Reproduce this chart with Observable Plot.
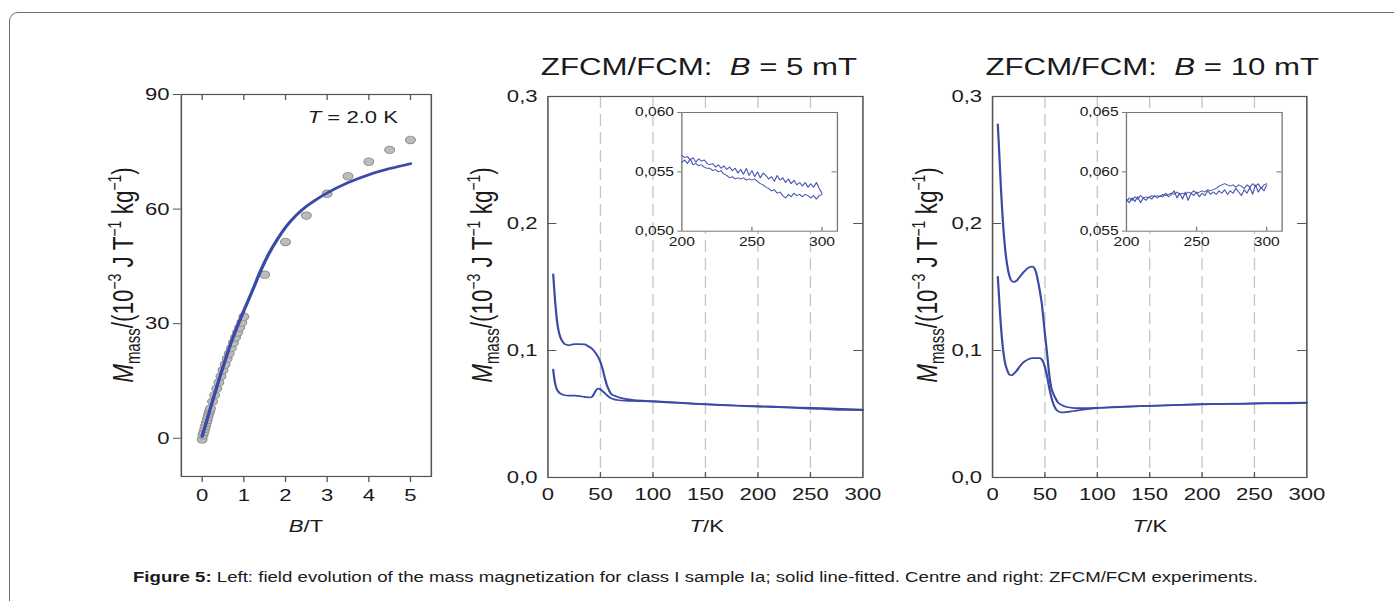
<!DOCTYPE html>
<html>
<head>
<meta charset="utf-8">
<script src="https://cdn.jsdelivr.net/npm/d3@7"></script>
<script src="https://cdn.jsdelivr.net/npm/@observablehq/plot@0.6"></script>
<style>
  html, body { margin: 0; padding: 0; background: #fff; width: 1394px; height: 601px; overflow: hidden; }
  #border { position: absolute; left: 9px; top: 12px; width: 1410px; height: 640px; border: 1.5px solid #6f6f6f; border-radius: 9px; box-sizing: border-box; }
  #chart { position: absolute; left: 0; top: 0; height: 601px; transform-origin: 0 0; font-family: "Liberation Sans", Arial, sans-serif; }
  #caption { position: absolute; left: 0; top: 0; }
  svg text { white-space: pre; }
</style>
</head>
<body>
<div id="border"></div>
<div id="chart"></div>
<svg id="caption" width="1394" height="601"></svg>
<script>
// ---------------- DATA ----------------
// Left: field dependence at T = 2.0 K
const fieldB = [0, 0.02, 0.04, 0.06, 0.08, 0.1, 0.12, 0.14, 0.16, 0.18, 0.2, 0.25, 0.3, 0.35, 0.4, 0.45, 0.5, 0.55, 0.6, 0.65, 0.7, 0.75, 0.8, 0.85, 0.9, 0.95, 1.0, 1.5, 2, 2.5, 3, 3.5, 4, 4.5, 5];
const fieldM = [-0.3, 0.8, 1.6, 2.4, 3.2, 4.0, 4.8, 5.6, 6.4, 7.1, 7.8, 9.6, 11.3, 13.0, 14.6, 16.2, 17.8, 19.3, 20.8, 22.2, 23.6, 25.0, 26.4, 27.7, 29.0, 30.3, 31.8, 42.8, 51.4, 58.3, 64.0, 68.6, 72.4, 75.5, 78.1];
const fitB = [0, 0.1, 0.2, 0.3, 0.4, 0.5, 0.6, 0.7, 0.8, 0.9, 1.0, 1.2, 1.4, 1.6, 1.8, 2.0, 2.25, 2.5, 2.75, 3.0, 3.5, 4.0, 4.5, 5.0];
const fitM = [0.5, 4.2, 8.0, 11.6, 15.2, 18.7, 22.0, 25.2, 28.1, 30.8, 33.4, 38.5, 43.8, 48.3, 52.0, 55.2, 58.3, 60.7, 62.6, 64.2, 66.9, 69.0, 70.6, 71.9];
const fieldXTicks = [0, 1, 2, 3, 4, 5];
const fieldYTicks = [0, 30, 60, 90];

// Centre: ZFCM/FCM, B = 5 mT
const fc5T  = [5, 6, 7, 8, 9, 10, 12, 14, 16, 18, 20, 22, 25, 30, 35, 38, 41, 44, 47, 50, 52, 54, 56, 58, 60, 63, 66, 70, 75, 80, 90, 100, 120, 140, 160, 180, 200, 220, 240, 260, 280, 300];
const fc5M  = [0.160, 0.148, 0.137, 0.128, 0.121, 0.116, 0.110, 0.107, 0.105, 0.1045, 0.104, 0.1045, 0.105, 0.105, 0.1048, 0.1035, 0.102, 0.0995, 0.096, 0.091, 0.0855, 0.079, 0.073, 0.069, 0.066, 0.0645, 0.0635, 0.0625, 0.0617, 0.0612, 0.0605, 0.0601, 0.0591, 0.0582, 0.0574, 0.0567, 0.0562, 0.0557, 0.0551, 0.0546, 0.0541, 0.0535];
const zfc5T = [5, 6, 7, 8, 10, 12, 15, 20, 25, 30, 35, 40, 42, 44, 46, 48, 50, 52, 54, 56, 58, 60, 63, 66, 70, 75, 80, 90, 100, 120, 140, 160, 180, 200, 220, 240, 260, 280, 300];
const zfc5M = [0.085, 0.078, 0.0735, 0.0705, 0.0675, 0.066, 0.065, 0.0645, 0.0645, 0.064, 0.0635, 0.063, 0.0635, 0.066, 0.069, 0.070, 0.0695, 0.068, 0.0665, 0.065, 0.0635, 0.0625, 0.0615, 0.061, 0.0606, 0.0604, 0.0603, 0.0601, 0.0598, 0.0589, 0.0580, 0.0572, 0.0565, 0.0558, 0.0553, 0.0545, 0.0540, 0.0532, 0.0531];

// Right: ZFCM/FCM, B = 10 mT
const fc10T  = [5, 6, 7, 8, 9, 10, 12, 14, 16, 18, 20, 23, 26, 30, 34, 38, 41, 44, 47, 50, 52, 54, 56, 58, 60, 62, 65, 68, 72, 76, 80, 90, 100, 120, 140, 160, 180, 200, 220, 240, 260, 280, 300];
const fc10M  = [0.278, 0.262, 0.245, 0.228, 0.213, 0.200, 0.180, 0.167, 0.159, 0.155, 0.154, 0.155, 0.158, 0.162, 0.165, 0.166, 0.163, 0.152, 0.137, 0.113, 0.098, 0.082, 0.071, 0.066, 0.0625, 0.0595, 0.0575, 0.0563, 0.0553, 0.0548, 0.0546, 0.0546, 0.0549, 0.0556, 0.0562, 0.0567, 0.0572, 0.0577, 0.0580, 0.0582, 0.0585, 0.0588, 0.0590];
const zfc10T = [5, 6, 7, 8, 9, 10, 12, 14, 16, 18, 20, 23, 26, 30, 34, 38, 42, 45, 48, 50, 52, 54, 56, 58, 60, 62, 64, 66, 70, 75, 80, 90, 100, 120, 140, 160, 180, 200, 220, 240, 260, 280, 300];
const zfc10M = [0.158, 0.145, 0.131, 0.119, 0.109, 0.101, 0.090, 0.0845, 0.081, 0.0805, 0.0815, 0.084, 0.0875, 0.091, 0.093, 0.094, 0.094, 0.094, 0.0915, 0.087, 0.080, 0.071, 0.0635, 0.058, 0.0545, 0.0525, 0.0515, 0.0512, 0.0514, 0.052, 0.0527, 0.0538, 0.0546, 0.0554, 0.0561, 0.0566, 0.0571, 0.0576, 0.0579, 0.0580, 0.0583, 0.0584, 0.0588];

const tempXTicks = [0, 50, 100, 150, 200, 250, 300];
const tempGrid = [50, 100, 150, 200, 250];
const tempYTicks = [0.0, 0.1, 0.2, 0.3];
const tempYInner = [0.1, 0.2];

// Insets (200–300 K)
const insetT = [200, 202, 204, 206, 208, 210, 212, 214, 216, 218, 220, 222, 224, 226, 228, 230, 232, 234, 236, 238, 240, 242, 244, 246, 248, 250, 252, 254, 256, 258, 260, 262, 264, 266, 268, 270, 272, 274, 276, 278, 280, 282, 284, 286, 288, 290, 292, 294, 296, 298, 300];
const in5Fc  = [0.0564, 0.0562, 0.0563, 0.0560, 0.0562, 0.0558, 0.0561, 0.0559, 0.0560, 0.0557, 0.0556, 0.0557, 0.0554, 0.0556, 0.0553, 0.0555, 0.0552, 0.0554, 0.0551, 0.0553, 0.0549, 0.0552, 0.0548, 0.0553, 0.0547, 0.0551, 0.0546, 0.0550, 0.0545, 0.0549, 0.0547, 0.0544, 0.0546, 0.0542, 0.0547, 0.0543, 0.0545, 0.0541, 0.0544, 0.0540, 0.0543, 0.0539, 0.0541, 0.0538, 0.0541, 0.0537, 0.0540, 0.0537, 0.0541, 0.0536, 0.0532];
const in5Zfc = [0.0558, 0.0560, 0.0557, 0.0561, 0.0556, 0.0557, 0.0555, 0.0556, 0.0554, 0.0553, 0.0553, 0.0551, 0.0552, 0.0550, 0.0551, 0.0548, 0.0547, 0.0545, 0.0546, 0.0544, 0.0545, 0.0544, 0.0545, 0.0543, 0.0544, 0.0543, 0.0544, 0.0542, 0.0540, 0.0539, 0.0537, 0.0536, 0.0534, 0.0535, 0.0532, 0.0533, 0.0530, 0.0528, 0.0531, 0.0529, 0.0532, 0.0530, 0.0531, 0.0529, 0.0531, 0.0530, 0.0528, 0.0530, 0.0527, 0.0530, 0.0531];
const in10Fc  = [0.0575, 0.0578, 0.0576, 0.0579, 0.0577, 0.0580, 0.0578, 0.0579, 0.0578, 0.0580, 0.0579, 0.0580, 0.0579, 0.0581, 0.0580, 0.0581, 0.0582, 0.0581, 0.0583, 0.0581, 0.0582, 0.0581, 0.0583, 0.0582, 0.0584, 0.0582, 0.0583, 0.0584, 0.0583, 0.0585, 0.0584, 0.0585, 0.0586, 0.0588, 0.0589, 0.0590, 0.0589, 0.0588, 0.0589, 0.0587, 0.0589, 0.0588, 0.0586, 0.0589, 0.0587, 0.0590, 0.0588, 0.0590, 0.0586, 0.0589, 0.0590];
const in10Zfc = [0.0577, 0.0574, 0.0578, 0.0575, 0.0579, 0.0574, 0.0578, 0.0576, 0.0579, 0.0577, 0.0580, 0.0578, 0.0580, 0.0579, 0.0582, 0.0579, 0.0581, 0.0584, 0.0578, 0.0582, 0.0577, 0.0583, 0.0576, 0.0582, 0.0580, 0.0583, 0.0579, 0.0582, 0.0580, 0.0584, 0.0581, 0.0583, 0.0581, 0.0584, 0.0582, 0.0585, 0.0581, 0.0584, 0.0582, 0.0586, 0.0583, 0.0580, 0.0585, 0.0582, 0.0587, 0.0581, 0.0589, 0.0583, 0.0587, 0.0584, 0.0589];
const insetXTicks = [200, 250, 300];
const inset5YTicks = [0.050, 0.055, 0.060];
const inset10YTicks = [0.055, 0.060, 0.065];

// ---------------- LAYOUT ----------------
const S = 1.3;               // horizontal stretch of the original figure
const FONT = '"Liberation Sans", Arial, sans-serif';
const BLUE = "#3a4aa6";
const chart = document.getElementById("chart");
chart.style.width = (1394 / S) + "px";
chart.style.transform = `scaleX(${S})`;

const pairs = (xs, ys, kx, ky) => xs.map((v, i) => ({[kx]: v, [ky]: ys[i]}));
const comma = d => (k => v => v.toFixed(k).replace(".", ","))(d);

function panel({frame, x, y, ml, mr, mt, mb, marks}) {
  const [x0, y0, x1, y1] = frame;
  const fw = x1 - x0, fh = y1 - y0;
  const svg = Plot.plot({
    width: ml + fw + mr, height: mt + fh + mb,
    marginLeft: ml, marginRight: mr, marginTop: mt, marginBottom: mb,
    x: {domain: x, label: null}, y: {domain: y, label: null},
    style: {background: "transparent", overflow: "visible", fontFamily: FONT, color: "#1a1a1a"},
    marks: marks(fw, fh)
  });
  svg.style.position = "absolute";
  svg.style.left = (x0 - ml) + "px";
  svg.style.top = (y0 - mt) + "px";
  svg.style.maxWidth = "none";
  chart.appendChild(svg);
}

// Left panel
panel({
  frame: [181 / S, 94, 431 / S, 476], x: [-0.5, 5.5], y: [-10, 90],
  ml: 60, mr: 10, mt: 10, mb: 60,
  marks: (fw, fh) => [
    Plot.dot(pairs(fieldB, fieldM, "B", "M"), {x: "B", y: "M", r: 3.8, fill: "#bcbcbc", stroke: "#8c8c8c", strokeWidth: 0.8}),
    Plot.line(pairs(fitB, fitM, "B", "M"), {x: "B", y: "M", stroke: BLUE, strokeWidth: 2.6, curve: "monotone-x"}),
    Plot.frame({stroke: "#555", strokeWidth: 1.2}),
    Plot.axisY(fieldYTicks, {anchor: "left", tickSize: 6, tickPadding: 3, fontSize: 17, label: null, stroke: "#555"}),
    Plot.axisX(fieldXTicks, {anchor: "bottom", tickSize: 6, tickPadding: 6, fontSize: 17, label: null, stroke: "#555"}),
    Plot.tickX(fieldXTicks, {x: d => d, insetBottom: fh - 6, stroke: "#555"})
  ]
});

function tempPanel(frameX0, frameX1, fcT, fcM, zfcT, zfcM) {
  panel({
    frame: [frameX0, 95.7, frameX1, 476.7], x: [0, 300], y: [0, 0.3],
    ml: 50, mr: 20, mt: 10, mb: 40,
    marks: (fw, fh) => [
      Plot.ruleX(tempGrid, {x: d => d, stroke: "#c4c4c4", strokeWidth: 1, strokeDasharray: "12,6"}),
      Plot.line(pairs(fcT, fcM, "T", "M"), {x: "T", y: "M", stroke: BLUE, strokeWidth: 1.7, curve: "monotone-x"}),
      Plot.line(pairs(zfcT, zfcM, "T", "M"), {x: "T", y: "M", stroke: BLUE, strokeWidth: 1.7, curve: "monotone-x"}),
      Plot.frame({stroke: "#555", strokeWidth: 1.2}),
      Plot.axisY(tempYTicks, {anchor: "left", tickSize: 0, tickPadding: 8, fontSize: 17, tickFormat: comma(1), label: null}),
      Plot.axisX(tempXTicks, {anchor: "bottom", tickSize: 0, tickPadding: 10, fontSize: 17, label: null}),
      Plot.tickX(tempGrid, {x: d => d, insetTop: fh - 5, stroke: "#555"}),
      Plot.tickY(tempYInner, {y: d => d, insetRight: fw - 7, stroke: "#555"}),
      Plot.tickY(tempYInner, {y: d => d, insetLeft: fw - 7, stroke: "#555"})
    ]
  });
}
tempPanel(547 / S, 862 / S, fc5T, fc5M, zfc5T, zfc5M);
tempPanel(991.7 / S, 1306 / S, fc10T, fc10M, zfc10T, zfc10M);

function insetPanel(frameX0, frameX1, yDomain, yTicks, fc, zfc) {
  panel({
    frame: [frameX0, 112.3, frameX1, 231], x: [200, 311], y: yDomain,
    ml: 40, mr: 10, mt: 10, mb: 24,
    marks: (fw, fh) => [
      Plot.frame({fill: "white", stroke: "#777", strokeWidth: 1}),
      Plot.line(pairs(insetT, fc, "T", "M"), {x: "T", y: "M", stroke: "#4754ad", strokeWidth: 0.9}),
      Plot.line(pairs(insetT, zfc, "T", "M"), {x: "T", y: "M", stroke: "#4754ad", strokeWidth: 0.9}),
      Plot.axisY(yTicks, {anchor: "left", tickSize: 3, tickPadding: 3, fontSize: 12, tickFormat: comma(3), label: null, stroke: "#777"}),
      Plot.axisX(insetXTicks, {anchor: "bottom", tickSize: 0, tickPadding: 6, fontSize: 12, label: null}),
      Plot.tickX(insetXTicks.slice(1), {x: d => d, insetTop: fh - 4, stroke: "#777"}),
      Plot.tickY(yTicks.slice(1, 2), {y: d => d, insetLeft: fw - 4, stroke: "#777"})
    ]
  });
}
insetPanel(681.7 / S, 837.3 / S, [0.050, 0.060], inset5YTicks, in5Fc, in5Zfc);
insetPanel(1126 / S, 1281.7 / S, [0.055, 0.065], inset10YTicks, in10Fc, in10Zfc);

// ---------------- TEXT OVERLAY ----------------
const over = d3.select(chart).append("svg")
  .attr("width", 1394 / S).attr("height", 601)
  .style("position", "absolute").style("left", "0px").style("top", "0px")
  .style("overflow", "visible")
  .attr("font-family", FONT).attr("fill", "#1a1a1a");

function titleText(cx, field) {
  const t = over.append("text").attr("x", cx).attr("y", 75).attr("text-anchor", "middle").attr("font-size", 24);
  t.append("tspan").text("ZFCM/FCM:\u00a0\u00a0");
  t.append("tspan").attr("font-style", "italic").text("B");
  t.append("tspan").text(` = ${field} mT`);
}
titleText(537.7, 5);
titleText(886.4, 10);

function yLabel(x, y) {
  const t = over.append("text").attr("transform", `translate(${x},${y}) rotate(-90)`)
    .attr("text-anchor", "middle").attr("font-size", 22.5);
  t.append("tspan").attr("font-style", "italic").text("M");
  t.append("tspan").attr("font-size", 15).attr("dy", 5).text("mass");
  t.append("tspan").attr("dy", -5).text("/(10");
  t.append("tspan").attr("font-size", 14).attr("dy", -9).text("\u22123");
  t.append("tspan").attr("dy", 9).text(" J T");
  t.append("tspan").attr("font-size", 14).attr("dy", -9).text("\u22121");
  t.append("tspan").attr("dy", 9).text(" kg");
  t.append("tspan").attr("font-size", 14).attr("dy", -9).text("\u22121");
  t.append("tspan").attr("dy", 9).text(")");
}
yLabel(133 / S, 275);
yLabel(492 / S, 275);
yLabel(937 / S, 275);

function xLabel(cx, v, u) {
  const t = over.append("text").attr("x", cx).attr("y", 532).attr("text-anchor", "middle").attr("font-size", 17);
  t.append("tspan").attr("font-style", "italic").text(v);
  t.append("tspan").text("/" + u);
}
xLabel(306 / S, "B", "T");
xLabel(706.7 / S, "T", "K");
xLabel(1150 / S, "T", "K");

{
  const t = over.append("text").attr("x", 398 / S).attr("y", 123).attr("text-anchor", "end").attr("font-size", 17);
  t.append("tspan").attr("font-style", "italic").text("T");
  t.append("tspan").text(" = 2.0 K");
}

// Caption (unstretched)
{
  const cap = d3.select("#caption").append("text")
    .attr("x", 133).attr("y", 582).attr("font-family", FONT).attr("font-size", 15.5).attr("fill", "#1a1a1a")
    .attr("textLength", 1125).attr("lengthAdjust", "spacingAndGlyphs");
  cap.append("tspan").attr("font-weight", "bold").text("Figure 5:");
  cap.append("tspan").text(" Left: field evolution of the mass magnetization for class I sample Ia; solid line-fitted. Centre and right: ZFCM/FCM experiments.");
}
</script>
</body>
</html>
